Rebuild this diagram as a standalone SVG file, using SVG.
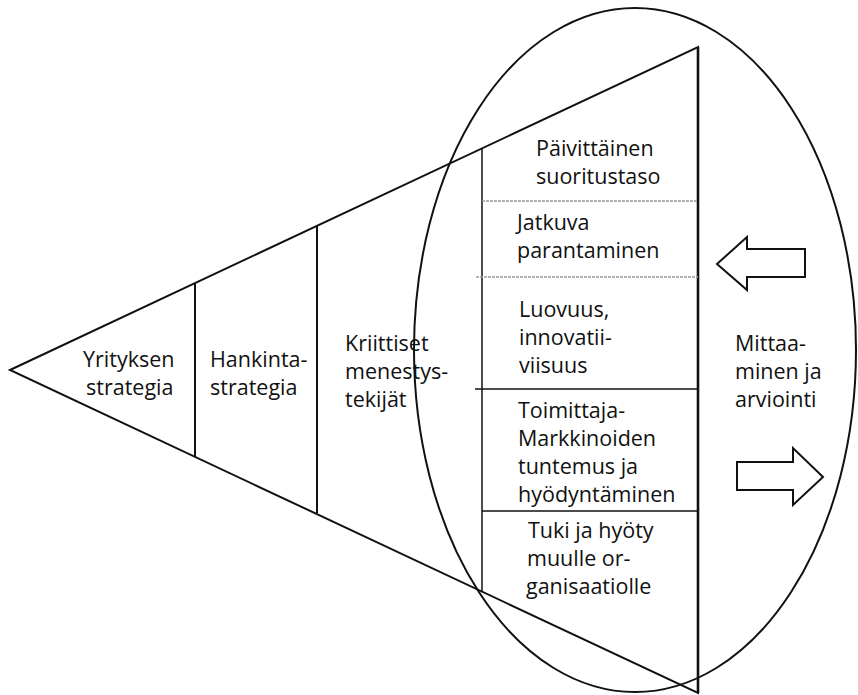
<svg xmlns="http://www.w3.org/2000/svg" width="858" height="695" viewBox="0 0 858 695">
  <style>
    .bg { fill: #ffffff; }
    .edge { fill: none; stroke: #111; stroke-width: 2; stroke-linejoin: miter; }
    .div { stroke: #111; stroke-width: 2; }
    .thin { stroke: #111; stroke-width: 1.5; }
    .soft { stroke: #999; stroke-width: 1.3; stroke-dasharray: 3 1; }
    .label { font-family: "Open Sans", "Noto Sans", "Liberation Sans", sans-serif; font-size: 21.5px; fill: #111; }
    .blk { fill: #fff; stroke: #111; stroke-width: 2; stroke-linejoin: miter; }
  </style>
  <rect class="bg" x="0" y="0" width="858" height="695"/>

  <!-- funnel outline -->
  <g id="funnel">
    <polygon class="edge" points="10,370 698,47 698,693"/>
    <line class="div" x1="195" y1="283" x2="195" y2="457"/>
    <line class="div" x1="317" y1="226" x2="317" y2="513"/>
    <line class="thin" x1="482" y1="148" x2="482" y2="591"/>
    <line x1="698" y1="47" x2="698" y2="693" stroke="#111" stroke-width="2.6"/>
  </g>

  <!-- measuring ellipse -->
  <g id="ellipse">
    <ellipse cx="635" cy="350" rx="221" ry="342" fill="none" stroke="#111" stroke-width="2"/>
  </g>

  <!-- stacked rows inside the right band -->
  <g id="rows">
    <line class="soft" x1="482" y1="201" x2="698" y2="201"/>
    <line class="soft" x1="476" y1="277" x2="698" y2="277"/>
    <line class="thin" x1="475" y1="389" x2="698" y2="389"/>
    <line class="thin" x1="482" y1="511" x2="698" y2="511"/>
  </g>

  <g id="yrityksen-strategia">
    <text class="label" x="83" y="367">Yrityksen</text>
    <text class="label" x="86" y="395">strategia</text>
  </g>
  <g id="hankintastrategia">
    <text class="label" x="210" y="367">Hankinta-</text>
    <text class="label" x="210" y="395">strategia</text>
  </g>
  <g id="kriittiset">
    <text class="label" x="345" y="351">Kriittiset</text>
    <text class="label" x="345" y="379">menestys-</text>
    <text class="label" x="345" y="407">tekijät</text>
  </g>
  <g id="paivittainen">
    <text class="label" x="536" y="156">Päivittäinen</text>
    <text class="label" x="536" y="184">suoritustaso</text>
  </g>
  <g id="jatkuva">
    <text class="label" x="517" y="230">Jatkuva</text>
    <text class="label" x="517" y="258">parantaminen</text>
  </g>
  <g id="luovuus">
    <text class="label" x="519" y="317">Luovuus,</text>
    <text class="label" x="519" y="345">innovatii-</text>
    <text class="label" x="519" y="373">viisuus</text>
  </g>
  <g id="toimittaja">
    <text class="label" x="518" y="418">Toimittaja-</text>
    <text class="label" x="518" y="446">Markkinoiden</text>
    <text class="label" x="518" y="474">tuntemus ja</text>
    <text class="label" x="518" y="502">hyödyntäminen</text>
  </g>
  <g id="tuki">
    <text class="label" x="528" y="538">Tuki ja hyöty</text>
    <text class="label" x="527" y="566">muulle or-</text>
    <text class="label" x="526" y="594">ganisaatiolle</text>
  </g>
  <g id="mittaaminen">
    <text class="label" x="735" y="351">Mittaa-</text>
    <text class="label" x="735" y="379">minen ja</text>
    <text class="label" x="735" y="407">arviointi</text>
  </g>

  <!-- feedback block arrows -->
  <g id="connectors">
    <polygon class="blk" points="717,264 747,237 747,249 805,249 805,277 747,277 747,290"/>
    <polygon class="blk" points="823,477 793,448 793,462 737,462 737,490 793,490 793,505"/>
  </g>
</svg>
